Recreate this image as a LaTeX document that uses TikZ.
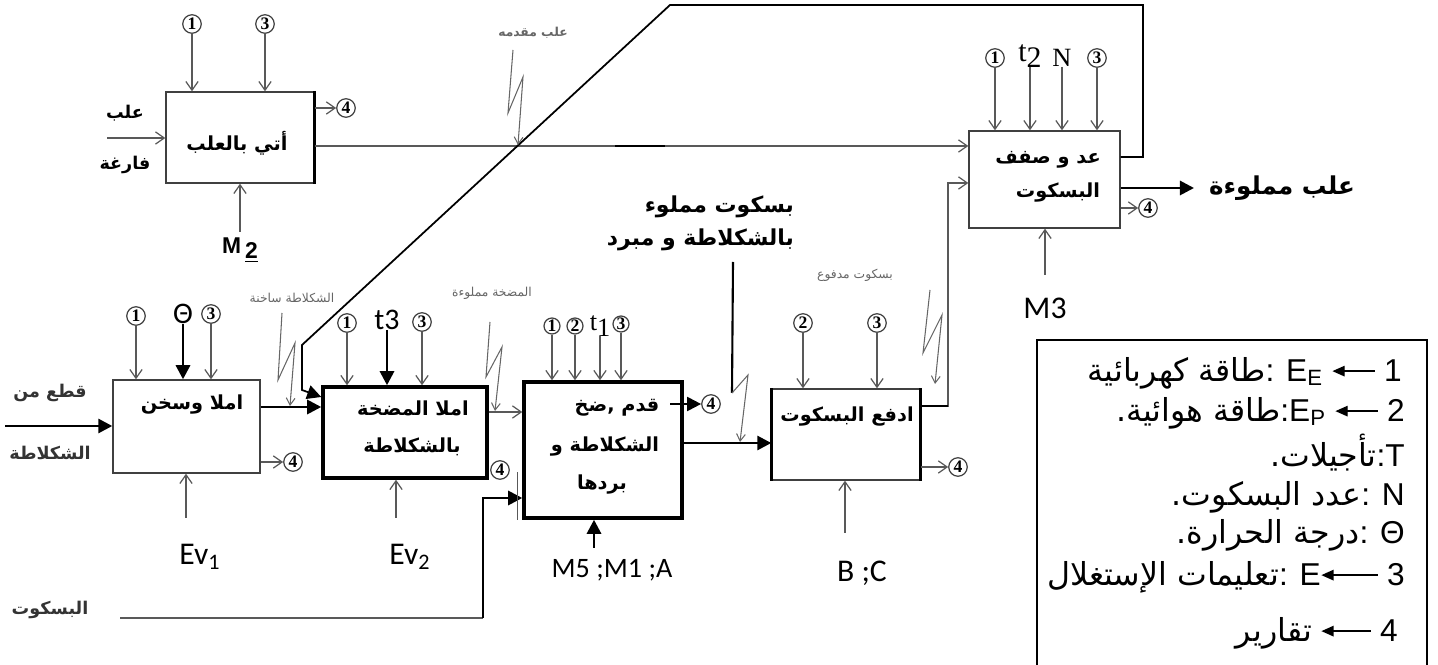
\documentclass[tikz,border=0pt]{standalone}
\usepackage{fontspec}
\setmainfont{Liberation Serif}
\newfontfamily\arfont[Script=Arabic]{DejaVu Sans}
\newfontfamily\lsans{Liberation Sans}
\newfontfamily\carl{Carlito}
\TeXXeTstate=1
\usetikzlibrary{arrows.meta,calc}
\newcommand\AR[1]{{\arfont\beginR #1\endR}}
\newcommand\ARB[1]{{\arfont\bfseries\beginR #1\endR}}
\newcommand\fsz[2]{\fontsize{#1}{#2}\selectfont}
\newcommand\larr[1]{\tikz[baseline=-0.6ex]\draw[line width=0.8pt,{Triangle[length=7pt,width=6pt]}-] (0pt,0pt) -- (#1,0pt);}
\begin{document}
\begin{tikzpicture}[x=0.02cm,y=-0.02cm,
  tl/.style={draw=black!65,line width=0.7pt},
  tarr/.style={tl,-{Straight Barb[length=5pt,width=7pt]}},
  kl/.style={draw=black,line width=1.6pt},
  karr/.style={kl,-{Triangle[length=8pt,width=8pt]}},
  ltn/.style={draw=black!60,line width=0.6pt,-{Straight Barb[length=4pt,width=5pt]}},
  numc/.style={circle,draw=black!75,line width=0.7pt,minimum size=0.37cm,inner sep=0pt,font=\bfseries\fsz{10}{10}},
  thinbox/.style={draw=black!75,line width=0.8pt,inner sep=0pt},
  thickbox/.style={draw=black,line width=2pt,inner sep=0pt},
  blbl/.style={font=\fsz{11}{13},inner sep=1pt},
  smlbl/.style={font=\fsz{7}{8},text=black!60,inner sep=1pt},
  latin/.style={font=\carl\fsz{18}{20},inner sep=1pt},
  leg/.style={anchor=east,font=\lsans\fsz{18}{20},inner sep=0pt}
]
\useasboundingbox (0,0) rectangle (1438,665);

% ---------- boxes ----------
\node[thinbox,minimum width=2.96cm,minimum height=1.82cm] (A) at (240,137.5) {};
\node[thinbox,minimum width=2.94cm,minimum height=1.86cm] (A1) at (186.5,426.5) {};
\node[thickbox,minimum width=3.28cm,minimum height=1.82cm] (B) at (405,432.5) {};
\node[thickbox,minimum width=3.16cm,minimum height=2.72cm] (C) at (603,450) {};
\node[thinbox,minimum width=2.96cm,minimum height=1.82cm] (D) at (846,434.5) {};
\node[thinbox,minimum width=3.02cm,minimum height=1.94cm] (E) at (1044.5,179.5) {};
\draw[line width=2pt] (A.north east) -- (A.south east);
\draw[line width=2pt] (D.north west) -- (D.south west);
\draw[line width=2pt] (D.north east) -- (D.south east);

% ---------- box texts ----------
\node[blbl] (At) at (237,143) {\ARB{أتي بالعلب}};
\node[blbl] (A1t) at (192,405) {\ARB{املا وسخن}};
\node[blbl] (Bt1) at (413,408) {\ARB{املا المضخة}};
\node[blbl] (Bt2) at (412,447) {\ARB{بالشكلاطة}};
\node[blbl] (Ct1) at (617,408) {\ARB{قدم ,ضخ}};
\node[blbl] (Ct2) at (605,447) {\ARB{الشكلاطة و}};
\node[blbl] (Ct3) at (602,485) {\ARB{بردها}};
\node[blbl] (Dt) at (847,417) {\ARB{ادفع البسكوت}};
\node[blbl] (Et1) at (1048,160) {\ARB{عد و صفف}};
\node[blbl] (Et2) at (1058,193) {\ARB{البسكوت}};

% ---------- box A ----------
\node[numc] (A_1) at (192,24) {1};
\node[numc] (A_3) at (265,24) {3};
\draw[tarr] (A_1.south) -- (A_1.south |- A.north);
\draw[tarr] (A_3.south) -- (A_3.south |- A.north);
\node[numc] (A_4) at (346,108) {4};
\draw[tarr] (A.east |- A_4) -- (A_4.west);
\node[blbl,font=\fsz{10}{12}] (Ain1) at (125,113) {\ARB{علب}};
\node[blbl,font=\fsz{10}{12}] (Ain2) at (125,165) {\ARB{فارغة}};
\coordinate (Ains) at (107,138);
\draw[tarr] (Ains) -- (A.west |- Ains);
\node[font=\lsans\bfseries\fsz{13}{15},inner sep=1pt] (M2) at (240,250) {M\,\raisebox{-3pt}{\underline{2}}};
\draw[tarr] (M2.north |- 0,232) -- (M2.north |- A.south);

% ---------- box A1 ----------
\node[numc] (A1_1) at (136,316) {1};
\node[font=\carl\fsz{17}{18},inner sep=0pt] (A1_th) at (183,314) {Θ};
\node[numc] (A1_3) at (211,314) {3};
\draw[tarr] (A1_1.south) -- (A1_1.south |- A1.north);
\draw[karr] (A1_th.south) -- (A1_th.south |- A1.north);
\draw[tarr] (A1_3.south) -- (A1_3.south |- A1.north);
\node[blbl,font=\fsz{10}{12},text=black!80] (qt1) at (50,393) {\ARB{قطع من}};
\node[blbl,font=\fsz{10}{12},text=black!80] (qt2) at (50,453) {\ARB{الشكلاطة}};
\coordinate (qts) at (5,426);
\draw[karr] (qts) -- (A1.west |- qts);
\node[numc] (A1_4) at (293,462) {4};
\draw[tarr] (A1.east |- A1_4) -- (A1_4.west);
\node[latin] (Ev1) at (200,557) {Ev\textsubscript{1}};
\coordinate (Ev1s) at (186,518);
\draw[tarr] (Ev1s) -- (Ev1s |- A1.south);
\draw[karr] (A1.east |- 0,407) -- (B.west |- 0,407);

% ---------- box B ----------
\node[numc] (B_1) at (347,323) {1};
\node[font=\carl\fsz{17}{18},inner sep=0pt] (B_t3) at (387,320) {t3};
\node[numc] (B_3) at (422,322) {3};
\draw[tarr] (B_1.south) -- (B_1.south |- B.north);
\draw[karr] (B_t3.south) -- (B_t3.south |- B.north);
\draw[tarr] (B_3.south) -- (B_3.south |- B.north);
\node[numc] (B_4) at (500,470) {4};
\node[latin] (Ev2) at (410,557) {Ev\textsubscript{2}};
\coordinate (Ev2s) at (396,518);
\draw[tarr] (Ev2s) -- (Ev2s |- B.south);
\draw[tarr] (B.east |- 0,412) -- (C.west |- 0,412);

% ---------- box C ----------
\node[numc,minimum size=0.32cm] (C_1) at (552,326) {1};
\node[numc,minimum size=0.32cm] (C_2) at (575,326) {2};
\node[font=\fsz{15}{16},inner sep=0pt] (C_t1) at (600,326) {t\raisebox{-3pt}{1}};
\node[numc,minimum size=0.32cm] (C_3) at (621,324) {3};
\draw[tarr] (C_1.south) -- (C_1.south |- C.north);
\draw[tarr] (C_2.south) -- (C_2.south |- C.north);
\draw[tarr] (C_t1.south) -- (C_t1.south |- C.north);
\draw[tarr] (C_3.south) -- (C_3.south |- C.north);
\node[numc] (C_4) at (711,404) {4};
\coordinate (C4s) at (670,404);
\draw[kl,line width=1.2pt,-{Triangle[length=8pt,width=8pt]}] (C4s) -- (C_4.west);
\node[latin,font=\carl\fsz{16}{18}] (Mc) at (612,570) {M5 ;M1 ;A};
\coordinate (Mcs) at (594,548);
\draw[karr] (Mcs) -- (Mcs |- C.south);
\node[blbl,font=\fsz{10}{12},text=black!80] (bsk) at (50,610) {\ARB{البسكوت}};
\coordinate (bsks) at (120,618);
\coordinate (bskc) at (483,618);
\draw[tl,line width=1pt] (bsks) -- (bskc);
\draw[karr] (bskc) -- (bskc |- 0,498) -- (C.west |- 0,498);
\draw[tl] ($(C.south west)+(-5,0)$) -- ($(C.south west)+(-5,-48)$);
\draw[karr] (C.east |- 0,443) -- (D.west |- 0,443);

% ---------- box D ----------
\node[numc] (D_2) at (803,323) {2};
\node[numc] (D_3) at (877,323) {3};
\draw[tarr] (D_2.south) -- (D_2.south |- D.north);
\draw[tarr] (D_3.south) -- (D_3.south |- D.north);
\node[numc] (D_4) at (958,467) {4};
\draw[tarr] (D.east |- D_4) -- (D_4.west);
\node[latin] (BC) at (862,573) {B ;C};
\coordinate (BCs) at (845,533);
\draw[tarr] (BCs) -- (BCs |- D.south);
\coordinate (DEc) at (948,406);
\draw[tarr] (D.east |- DEc) -- (DEc) -- (DEc |- 0,183) -- (E.west |- 0,183);
\draw[kl,line width=1.4pt] (D.east |- DEc) -- (DEc);

% ---------- box E ----------
\node[numc] (E_1) at (995,58) {1};
\node[font=\fsz{17}{17},inner sep=0pt] (E_t2) at (1030,56) {t\raisebox{-3pt}{2}};
\node[font=\fsz{15}{16},inner sep=0pt] (E_N) at (1062,58) {N};
\node[numc] (E_3) at (1097,58) {3};
\draw[tarr] (E_1.south) -- (E_1.south |- E.north);
\draw[tarr] (E_t2.south) -- (E_t2.south |- E.north);
\draw[tarr] (E_N.south) -- (E_N.south |- E.north);
\draw[tarr] (E_3.south) -- (E_3.south |- E.north);
\node[numc] (E_4) at (1148,208) {4};
\draw[tarr] (E.east |- E_4) -- (E_4.west);
\node[latin] (M3) at (1045,308) {M3};
\coordinate (M3s) at (1045,275);
\draw[tarr] (M3s) -- (M3s |- E.south);
\node[blbl,font=\fsz{14}{16}] (out) at (1282,188) {\ARB{علب مملوءة}};
\coordinate (outs) at (1194,188);
\draw[karr] (E.east |- outs) -- (outs);
\draw[tarr] (A.east |- 0,146) -- (E.west |- 0,146);
\draw[kl,line width=1.3pt] (615,146) -- (665,146);

% ---------- return loop ----------
\coordinate (r1) at (1143,157);
\coordinate (r2) at (1143,5);
\coordinate (r3) at (670,5);
\coordinate (r4) at (302,345);
\coordinate (r5) at (302,390);
\draw[draw=black,line width=1pt,-{Triangle[length=8pt,width=8pt]}] (E.east |- r1) -- (r1) -- (r2) -- (r3) -- (r4) -- (r5) -- (B.west |- 0,397);

% ---------- lightning labels ----------
\node[smlbl] (L1) at (533,33) {\ARB{علب مقدمه}};
\draw[ltn] (513,50) -- (508,113) -- (523,77) -- (518,145);
\node[smlbl] (L2) at (292,298) {\AR{الشكلاطة ساخنة}};
\draw[ltn] (282,313) -- (278,380) -- (295,343) -- (290,406);
\node[smlbl] (L3) at (492,293) {\AR{المضخة مملوءة}};
\draw[ltn] (490,322) -- (486,377) -- (502,347) -- (495,411);
\node[smlbl] (L5) at (855,275) {\AR{بسكوت مدفوع}};
\draw[ltn] (930,290) -- (923,353) -- (942,315) -- (935,384);
\node[blbl,font=\fsz{12.5}{15},anchor=east] (L4a) at (796,207) {\ARB{بسكوت مملوء}};
\node[blbl,font=\fsz{12.5}{15},anchor=east] (L4b) at (796,240) {\ARB{بالشكلاطة و مبرد}};
\coordinate (L4s) at (733,262);
\draw[kl,line width=1.2pt] (L4s) -- (732,393);
\draw[ltn] (732,393) -- (748,375) -- (740,442);

% ---------- legend ----------
\draw[line width=0.8pt] (1037,665) -- (1037,340) -- (1427,340) -- (1427,665);
\node[leg] (g1) at (1402,373) {\AR{طاقة كهربائية}: E\textsubscript{E} \larr{24pt} 1};
\node[leg] (g2) at (1405,413) {\AR{طاقة هوائية.}:E\textsubscript{P} \larr{24pt} 2};
\node[leg] (g3) at (1405,453) {\AR{تأجيلات.}:T};
\node[leg] (g4) at (1405,497) {\AR{عدد البسكوت.}: N};
\node[leg] (g5) at (1405,535) {\AR{درجة الحرارة.}: Θ};
\node[leg] (g6) at (1405,577) {\AR{تعليمات الإستغلال}: E\larr{32pt} 3};
\node[leg] (g7) at (1398,633) {\AR{تقارير} \larr{28pt} 4};
\end{tikzpicture}
\end{document}
